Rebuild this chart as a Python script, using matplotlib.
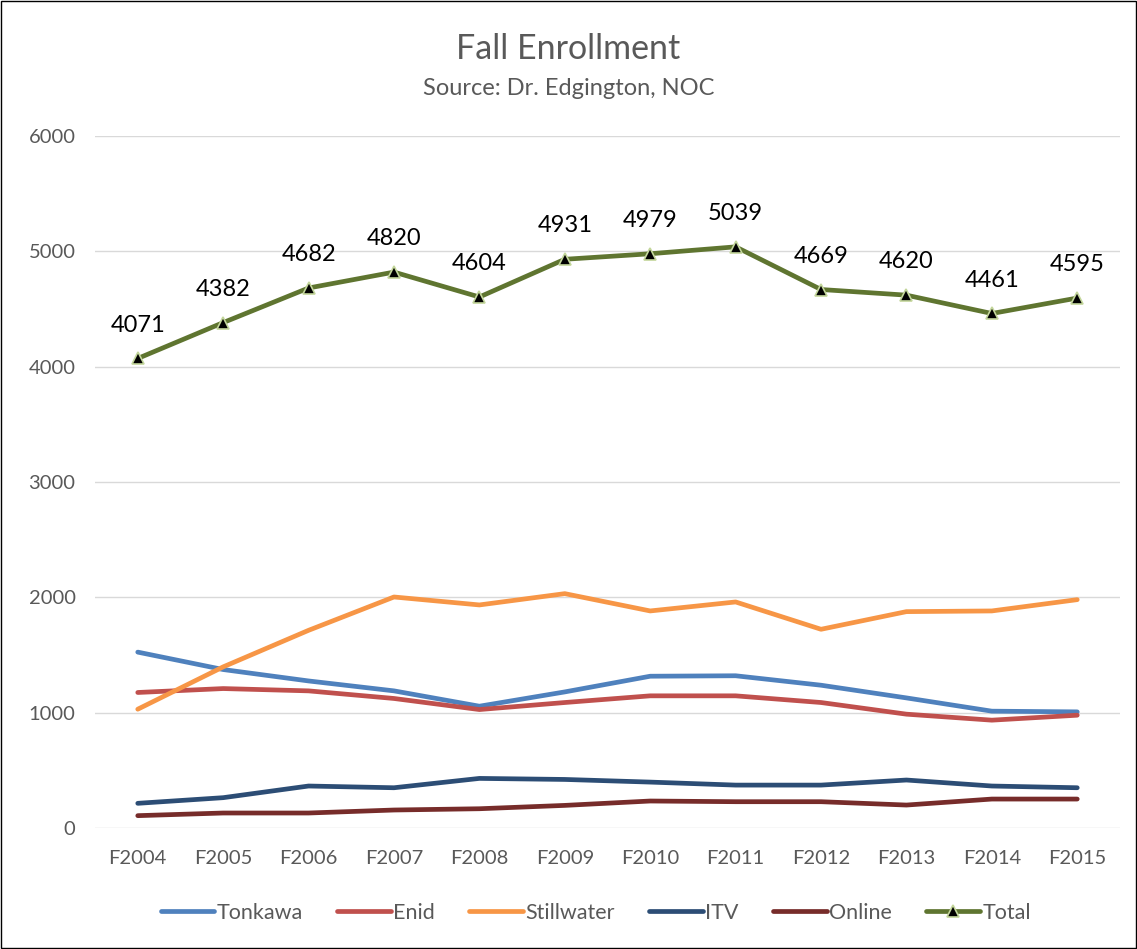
import matplotlib.pyplot as plt
from matplotlib.patches import Rectangle

plt.rcParams['font.family'] = ['Lato', 'DejaVu Sans']

years = ["F2004", "F2005", "F2006", "F2007", "F2008", "F2009",
         "F2010", "F2011", "F2012", "F2013", "F2014", "F2015"]
tonkawa = [1525, 1374, 1275, 1189, 1056, 1180, 1316, 1320, 1238, 1128, 1013, 1007]
enid = [1175, 1209, 1189, 1123, 1027, 1088, 1146, 1146, 1088, 987, 935, 978]
stillwater = [1030, 1397, 1714, 2003, 1934, 2032, 1882, 1960, 1723, 1876, 1882, 1980]
itv = [214, 263, 364, 349, 430, 421, 398, 372, 372, 416, 364, 349]
online = [107, 130, 130, 156, 167, 196, 234, 228, 228, 199, 251, 251]
total = [4071, 4382, 4682, 4820, 4604, 4931, 4979, 5039, 4669, 4620, 4461, 4595]

grey = "#595959"
fig = plt.figure(figsize=(11.37, 9.49), dpi=100)
ax = fig.add_axes([0.0836, 0.1275, 0.9014, 0.7292])

x = range(len(years))
lw = 3.4
ax.plot(x, tonkawa, color="#4f81bd", lw=lw, label="Tonkawa", solid_capstyle="round")
ax.plot(x, enid, color="#c0504d", lw=lw, label="Enid", solid_capstyle="round")
ax.plot(x, stillwater, color="#f79646", lw=lw, label="Stillwater", solid_capstyle="round")
ax.plot(x, itv, color="#2c4d75", lw=lw, label="ITV", solid_capstyle="round")
ax.plot(x, online, color="#772c2a", lw=lw, label="Online", solid_capstyle="round")
ax.plot(x, total, color="#5f7530", lw=lw, label="Total", solid_capstyle="round",
        marker="^", markersize=9, markerfacecolor="black",
        markeredgecolor="#c3d69b", markeredgewidth=1.2)

for i, v in enumerate(total):
    ax.annotate(str(v), (i, v), xytext=(0, 24), textcoords="offset points",
                ha="center", va="center", fontsize=17, color="black")

ax.set_xlim(-0.5, len(years) - 0.5)
ax.set_ylim(0, 6000)
ax.set_yticks(range(0, 6001, 1000))
ax.set_xticks(list(x))
ax.set_xticklabels(years)
ax.tick_params(axis="both", length=0, labelsize=14.5, colors=grey)
ax.tick_params(axis="x", pad=16)
ax.tick_params(axis="y", pad=14)
ax.grid(axis="y", color="#d9d9d9", lw=1)
ax.set_axisbelow(True)
for s in ax.spines.values():
    s.set_visible(False)

fig.text(0.5, 0.948, "Fall Enrollment", ha="center", va="center", fontsize=24.5, color=grey)
fig.text(0.5, 0.907, "Source: Dr. Edgington, NOC", ha="center", va="center", fontsize=17, color=grey)

leg = fig.legend(loc="center", bbox_to_anchor=(0.524, 0.038), ncol=6, frameon=False,
                 fontsize=15.5, handlelength=2.5, handletextpad=0.1, columnspacing=1.6)
for t in leg.get_texts():
    t.set_color(grey)

fig.patches.append(Rectangle((0.001, 0.001), 0.998, 0.998, transform=fig.transFigure,
                             fill=False, edgecolor="black", lw=1))

fig.savefig("out.png", dpi=100)
